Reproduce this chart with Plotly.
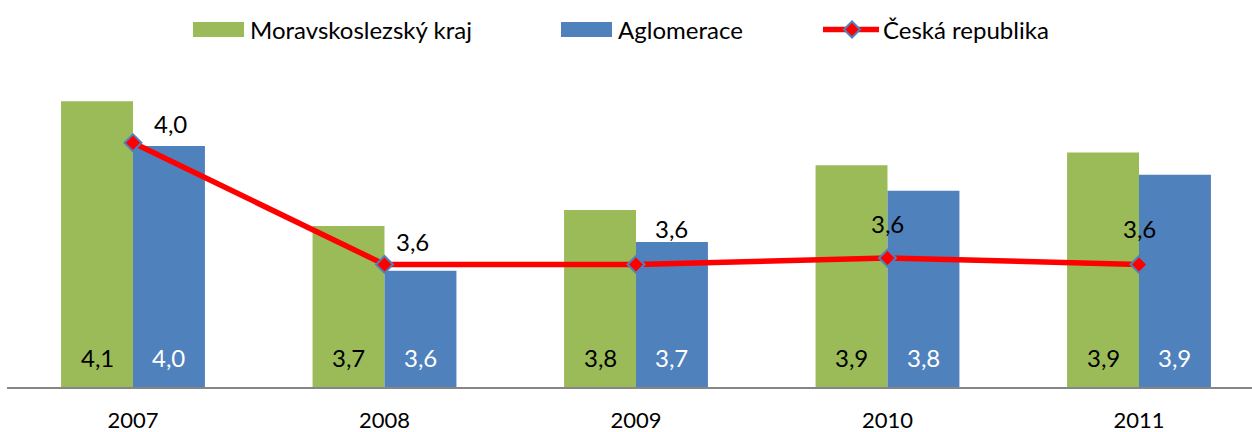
import plotly.graph_objects as go

# Data
years = ["2007", "2008", "2009", "2010", "2011"]
msk = [4.10, 3.71, 3.76, 3.90, 3.94]          # Moravskoslezský kraj
aglo = [3.96, 3.57, 3.66, 3.82, 3.87]         # Aglomerace
cr = [3.97, 3.59, 3.59, 3.61, 3.59]           # Česká republika
series_names = ["Moravskoslezský kraj", "Aglomerace", "Česká republika"]

# Styling
GREEN = "#9BBB59"
BLUE = "#4F81BD"
RED = "#FF0000"
FONT = "Lato"
FS = 24

W, H = 1252, 432
M_L, M_R, M_T, M_B = 7, 0, 60, 45
PLOT_W = W - M_L - M_R
PLOT_H = H - M_T - M_B
BAR_W = 0.286
Y_MIN = 3.207
Y_MAX = Y_MIN + PLOT_H / 320.0
X0 = -0.501
X1 = X0 + PLOT_W / 251.5


def fmt(v):
    return f"{v:.1f}".replace(".", ",")


def px_x(x):
    return (x - M_L) / PLOT_W


def px_y(y):
    return (H - M_B - y) / PLOT_H


xs = list(range(len(years)))

fig = go.Figure()
fig.add_trace(go.Bar(
    x=xs, y=msk, name=series_names[0], marker_color=GREEN,
    width=BAR_W, offset=-BAR_W, marker_line_width=0,
))
fig.add_trace(go.Bar(
    x=xs, y=aglo, name=series_names[1], marker_color=BLUE,
    width=BAR_W, offset=0, marker_line_width=0,
))
fig.add_trace(go.Scatter(
    x=xs, y=cr, name=series_names[2], mode="lines+markers",
    line=dict(color=RED, width=5.5),
    marker=dict(symbol="diamond", size=13, color=RED,
                line=dict(color=BLUE, width=2)),
))

annotations = []
# values inside the bars, at their feet
for i in xs:
    annotations.append(dict(
        x=i - BAR_W / 2, y=Y_MIN, xref="x", yref="y", text=fmt(msk[i]),
        showarrow=False, yanchor="bottom", yshift=13,
        font=dict(family=FONT, size=FS, color="black")))
    annotations.append(dict(
        x=i + BAR_W / 2, y=Y_MIN, xref="x", yref="y", text=fmt(aglo[i]),
        showarrow=False, yanchor="bottom", yshift=13,
        font=dict(family=FONT, size=FS, color="white")))

# labels of the national line
cr_label_shift = [(37, 19), (28, 23), (35, 36), (0, 35), (0, 36)]
for i in xs:
    dx, dy = cr_label_shift[i]
    annotations.append(dict(
        x=i, y=cr[i], xref="x", yref="y", text=fmt(cr[i]),
        showarrow=False, xshift=dx, yshift=dy,
        font=dict(family=FONT, size=FS, color="black")))

# legend drawn by hand
shapes = []
leg_y = 29.5
shapes.append(dict(type="rect", xref="paper", yref="paper",
                   x0=px_x(193), x1=px_x(244), y0=px_y(37), y1=px_y(22),
                   fillcolor=GREEN, line_width=0, layer="above"))
shapes.append(dict(type="rect", xref="paper", yref="paper",
                   x0=px_x(561), x1=px_x(612), y0=px_y(37), y1=px_y(22),
                   fillcolor=BLUE, line_width=0, layer="above"))
shapes.append(dict(type="line", xref="paper", yref="paper",
                   x0=px_x(823), x1=px_x(879), y0=px_y(leg_y), y1=px_y(leg_y),
                   line=dict(color=RED, width=5.5), layer="above"))
shapes.append(dict(type="path", xref="paper", yref="paper",
                   xsizemode="pixel", ysizemode="pixel",
                   xanchor=px_x(852), yanchor=px_y(leg_y),
                   path="M -8 0 L 0 8 L 8 0 L 0 -8 Z",
                   fillcolor=RED, line=dict(color=BLUE, width=2), layer="above"))
for name, x in zip(series_names, [248, 616, 881]):
    annotations.append(dict(
        x=px_x(x), y=px_y(leg_y), xref="paper", yref="paper", text=name,
        showarrow=False, xanchor="left", yanchor="middle",
        font=dict(family=FONT, size=FS, color="black")))

fig.update_layout(
    width=W, height=H,
    margin=dict(l=M_L, r=M_R, t=M_T, b=M_B, pad=0, autoexpand=False),
    paper_bgcolor="white", plot_bgcolor="white",
    showlegend=False, barmode="overlay",
    annotations=annotations, shapes=shapes,
    font=dict(family=FONT, size=FS, color="black"),
)
fig.update_xaxes(
    range=[X0, X1], tickmode="array", tickvals=xs, ticktext=years,
    showgrid=False, zeroline=False, showline=True, linecolor="#868686",
    linewidth=1.5, ticks="", ticklabelstandoff=13, automargin=False,
    tickfont=dict(family=FONT, size=22, color="black"),
)
fig.update_yaxes(
    range=[Y_MIN, Y_MAX], visible=False, showgrid=False, zeroline=False,
    automargin=False,
)

fig.write_html("out.html")
